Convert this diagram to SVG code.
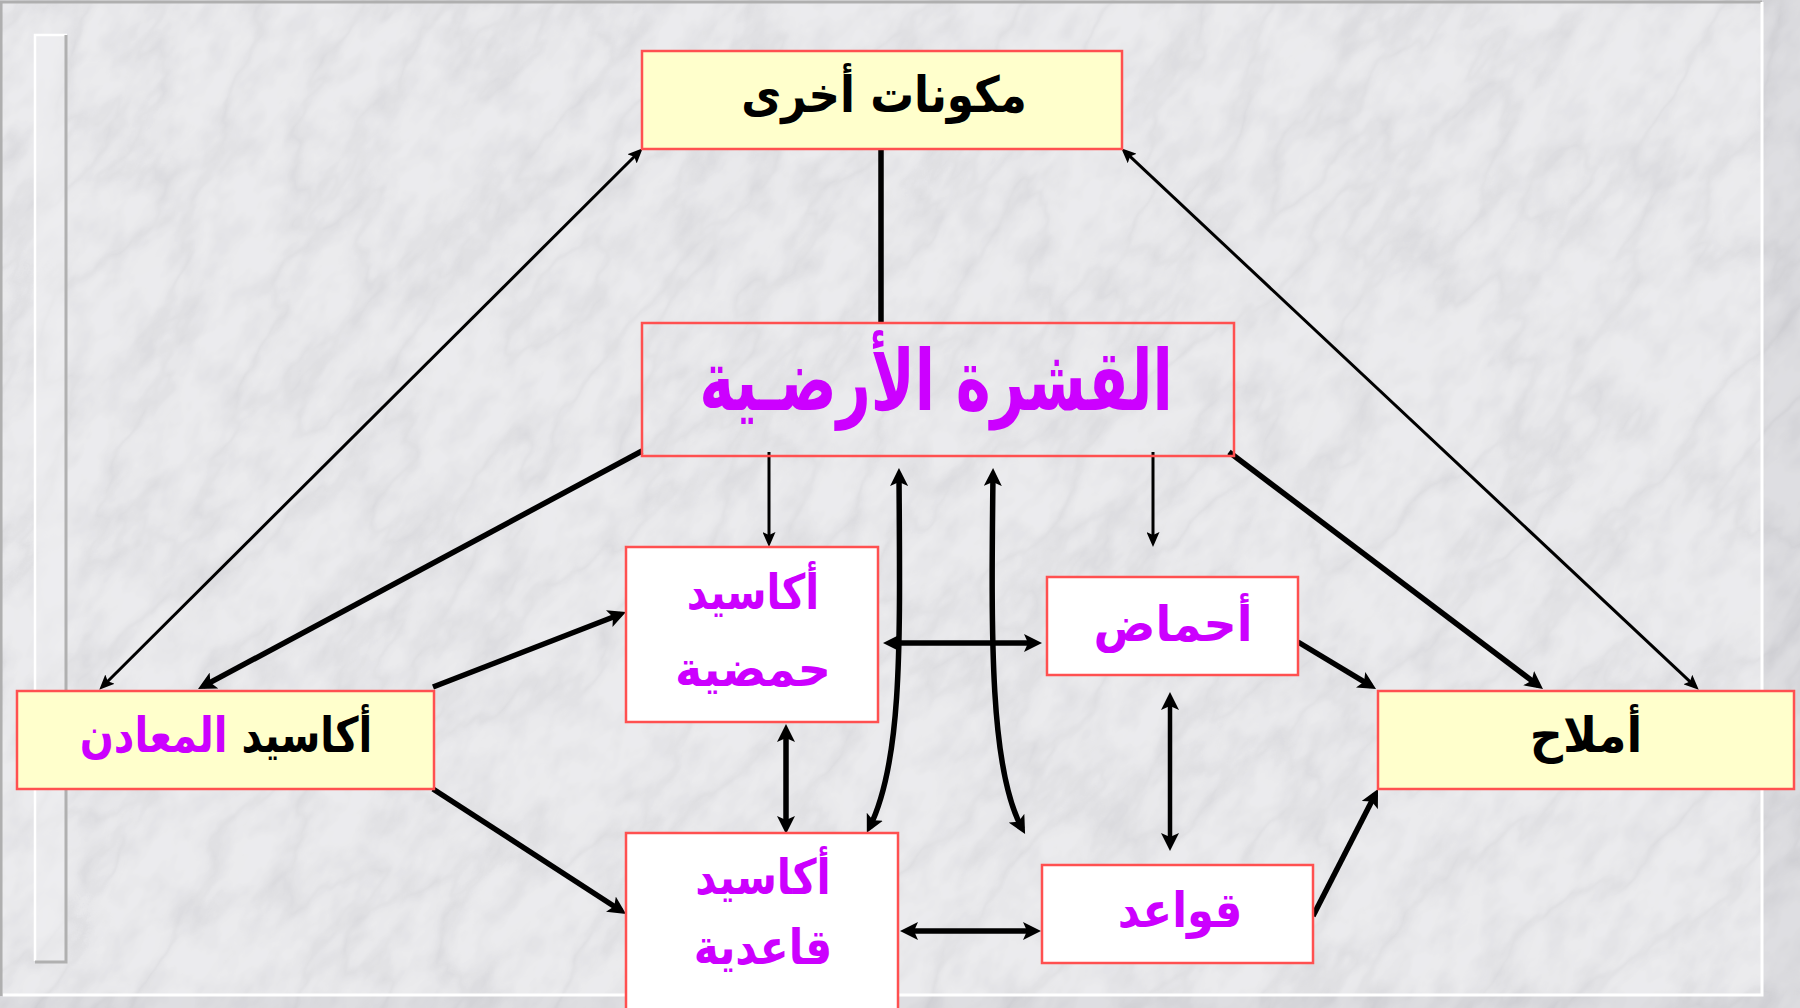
<svg xmlns="http://www.w3.org/2000/svg" width="1800" height="1008" viewBox="0 0 1800 1008">
  <style>
    .node { stroke: #FF5050; stroke-width: 2.5; }
    .yellow { fill: #FFFFCC; }
    .white { fill: #FFFFFF; }
    .clear { fill: none; }
    .lbl { font-family: "DejaVu Sans", "Noto Sans", sans-serif; font-weight: bold; text-anchor: middle; }
    .blk { fill: #000000; }
    .mag { fill: #CC00FF; }
    .thin { fill: none; stroke: #000; stroke-width: 3; }
    .thick { fill: none; stroke: #000; stroke-width: 5.5; }
    .mid { fill: none; stroke: #000; stroke-width: 4.5; }
  </style>
  <defs>
    <filter id="marble" x="0" y="0" width="1" height="1">
      <feTurbulence type="fractalNoise" baseFrequency="0.005 0.011" numOctaves="5" seed="11" result="t"/>
      <feColorMatrix in="t" type="matrix" values="0 0 0 0 0.45  0 0 0 0 0.45  0 0 0 0 0.48  1 0 0 0 0" result="a"/>
      <feComponentTransfer in="a">
        <feFuncA type="table" tableValues="0 0 0 0 0 0 0 0.01 0.04 0.1 0.26 0.1 0.04 0.01 0 0 0 0 0 0 0"/>
      </feComponentTransfer>
    </filter>
    <filter id="mottle" x="0" y="0" width="1" height="1">
      <feTurbulence type="fractalNoise" baseFrequency="0.025 0.04" numOctaves="3" seed="4" result="t"/>
      <feColorMatrix in="t" type="matrix" values="0 0 0 0 0.55  0 0 0 0 0.55  0 0 0 0 0.58  -0.8 0 0 0 0.48"/>
    </filter>
    <marker id="ahk" viewBox="0 0 18 18" refX="12" refY="9" markerWidth="18" markerHeight="18" markerUnits="userSpaceOnUse" orient="auto-start-reverse">
      <path d="M0,0 L18,9 L0,18 L4,9 z" fill="#000"/>
    </marker>
    <marker id="ahn" viewBox="0 0 15 13" refX="10" refY="6.5" markerWidth="15" markerHeight="13" markerUnits="userSpaceOnUse" orient="auto-start-reverse">
      <path d="M0,0 L15,6.5 L0,13 L3,6.5 z" fill="#000"/>
    </marker>
  </defs>

  <!-- background -->
  <g id="background">
    <rect x="0" y="0" width="1800" height="1008" fill="#E9E9EB"/>
    <g transform="rotate(-52 900 504)">
      <rect x="-700" y="-800" width="3200" height="2600" filter="url(#mottle)"/>
      <rect x="-700" y="-800" width="3200" height="2600" filter="url(#marble)"/>
    </g>
    <rect x="3" y="3" width="1759" height="992" fill="#F2F2F4" opacity="0.3"/>
    <path d="M1763,0 H1800 V1008 H0 V996 H1763 Z" fill="#C8C8CC" opacity="0.3"/>
    <path d="M1,996 V2 H1762" fill="none" stroke="#AFAFAF" stroke-width="3"/>
    <path d="M1762,2 V995 H3" fill="none" stroke="#FFFFFF" stroke-width="3"/>
    <rect x="35" y="35" width="31" height="926" fill="#F0F0F2" opacity="0.5"/>
    <path d="M35,961 V35 H67" fill="none" stroke="#FFFFFF" stroke-width="2.5"/>
    <path d="M66,35 V962 H35" fill="none" stroke="#B0B0B0" stroke-width="3"/>
  </g>

  <!-- connectors -->
  <g id="connectors">
    <line class="thick" x1="881" y1="149" x2="881" y2="323"/>
    <line class="thin" x1="102.8" y1="686.2" x2="639.2" y2="151.8" marker-start="url(#ahn)" marker-end="url(#ahn)"/>
    <line class="thin" x1="1124.9" y1="151.7" x2="1695.1" y2="686.3" marker-start="url(#ahn)" marker-end="url(#ahn)"/>
    <line class="thick" x1="642" y1="451" x2="203.3" y2="686.2" marker-end="url(#ahk)"/>
    <line class="thick" x1="1229" y1="452" x2="1538.2" y2="685.4" marker-end="url(#ahk)"/>
    <line class="thick" x1="433" y1="687" x2="620.4" y2="614.2" marker-end="url(#ahk)"/>
    <line class="thick" x1="433" y1="789" x2="621" y2="910.7" marker-end="url(#ahk)"/>
    <line class="thick" x1="786" y1="730" x2="786" y2="828" marker-start="url(#ahk)" marker-end="url(#ahk)"/>
    <line class="thin" x1="769" y1="452" x2="769" y2="542" marker-end="url(#ahn)"/>
    <line class="thin" x1="1153" y1="452" x2="1153" y2="542" marker-end="url(#ahn)"/>
    <path class="thick" d="M899,474 C900,640 903,760 869.5,827.5" marker-start="url(#ahk)" marker-end="url(#ahk)"/>
    <path class="thick" d="M993,474 C991,640 990,770 1022.2,828.7" marker-start="url(#ahk)" marker-end="url(#ahk)"/>
    <line class="thick" x1="889" y1="643" x2="1036" y2="643" marker-start="url(#ahk)" marker-end="url(#ahk)"/>
    <line class="mid" x1="1170" y1="698" x2="1170" y2="845" marker-start="url(#ahk)" marker-end="url(#ahk)"/>
    <line class="thick" x1="906" y1="931" x2="1035" y2="931" marker-start="url(#ahk)" marker-end="url(#ahk)"/>
    <line class="thick" x1="1298" y1="642" x2="1370.9" y2="685.9" marker-end="url(#ahk)"/>
    <line class="thick" x1="1313" y1="916" x2="1375.3" y2="794.3" marker-end="url(#ahk)"/>
  </g>

  <!-- nodes -->
  <g id="node-other">
    <rect class="node yellow" x="642" y="51" width="480" height="98"/>
    <text class="lbl blk" transform="translate(884,112) scale(0.95,1.08)" font-size="46">مكونات أخرى</text>
  </g>
  <g id="node-crust">
    <rect class="node clear" x="642" y="323" width="592" height="133"/>
    <text class="lbl mag" transform="translate(936,410) scale(0.74,1.06)" font-size="80">القشرة الأرضـية</text>
  </g>
  <g id="node-metal-oxides">
    <rect class="node yellow" x="17" y="691" width="417" height="98"/>
    <text class="lbl" transform="translate(226,752) scale(0.87,1.06)" font-size="46" direction="rtl"><tspan class="blk">أكاسيد</tspan> <tspan class="mag">المعادن</tspan></text>
  </g>
  <g id="node-acidic-oxides">
    <rect class="node white" x="626" y="547" width="252" height="175"/>
    <text class="lbl mag" transform="translate(753,609) scale(0.88,1.06)" font-size="46">أكاسيد</text>
    <text class="lbl mag" transform="translate(753,686) scale(1,1.06)" font-size="46">حمضية</text>
  </g>
  <g id="node-basic-oxides">
    <rect class="node white" x="626" y="833" width="272" height="185"/>
    <text class="lbl mag" transform="translate(763,894) scale(0.9,1.06)" font-size="46">أكاسيد</text>
    <text class="lbl mag" transform="translate(763,964) scale(0.92,1.06)" font-size="46">قاعدية</text>
  </g>
  <g id="node-acids">
    <rect class="node white" x="1047" y="577" width="251" height="98"/>
    <text class="lbl mag" transform="translate(1173,641) scale(1,1.06)" font-size="46">أحماض</text>
  </g>
  <g id="node-bases">
    <rect class="node white" x="1042" y="865" width="271" height="98"/>
    <text class="lbl mag" transform="translate(1180,927) scale(0.94,1.06)" font-size="46">قواعد</text>
  </g>
  <g id="node-salts">
    <rect class="node yellow" x="1378" y="691" width="416" height="98"/>
    <text class="lbl blk" transform="translate(1586,752) scale(1,1.06)" font-size="46">أملاح</text>
  </g>
</svg>
